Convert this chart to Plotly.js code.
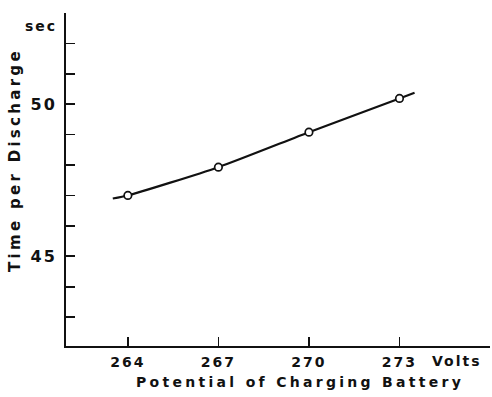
<!DOCTYPE html>
<html>
<head>
<meta charset="utf-8">
<script src="https://cdn.plot.ly/plotly-3.0.1.min.js"></script>
<style>
  html, body { margin: 0; padding: 0; background: #fff; }
  #chart { width: 492px; height: 397px; }
  .xtick text, .ytick text, .annotation-text { letter-spacing: 2px; }
  text[data-unformatted^="Potential"], text[data-unformatted^="Time"] { letter-spacing: 3.3px; }
</style>
</head>
<body>
<div id="chart"></div>
<script>
// Data
const voltage = [264, 267, 270, 273];               // Volts
const timePerDischarge = [47.0, 47.93, 49.08, 50.19]; // sec
// Smooth curve drawn through the points (extends a little beyond the ends)
const curveVoltage = [263.5, 264, 267, 270, 273, 273.5];
const curveTime = [46.9, 47.0, 47.93, 49.08, 50.19, 50.38];

const xTickVals = [264, 267, 270, 273, 276];
const xTickText = ['264', '267', '270', '273', ''];
const yTickVals = [43, 44, 45, 46, 47, 48, 49, 50, 51, 52];
const yTickText = ['', '', '45', '', '', '', '', '50', '', ''];

const fontFam = '"DejaVu Sans", "Liberation Sans", sans-serif';
const ink = '#111';

const traces = [
  {
    x: curveVoltage, y: curveTime, type: 'scatter', mode: 'lines',
    line: { color: ink, width: 2.2, shape: 'spline', smoothing: 0.6 },
    hoverinfo: 'skip', showlegend: false
  },
  {
    x: voltage, y: timePerDischarge, type: 'scatter', mode: 'markers',
    marker: { symbol: 'circle', size: 7.5, color: '#fff', line: { color: ink, width: 1.7 } },
    showlegend: false
  }
];

const layout = {
  width: 492, height: 397,
  margin: { l: 66, r: 2, t: 13, b: 51 },
  paper_bgcolor: '#fff', plot_bgcolor: '#fff',
  font: { family: fontFam, size: 14, color: ink },
  xaxis: {
    range: [261.95, 276], showgrid: false, zeroline: false,
    showline: true, linecolor: ink, linewidth: 2,
    ticks: 'inside', ticklen: 9, tickwidth: 1.6, tickcolor: ink,
    tickvals: xTickVals, ticktext: xTickText,
    tickfont: { family: fontFam, size: 14, color: ink, weight: 'bold' },
    ticklabelstandoff: 2
  },
  yaxis: {
    range: [42.05, 53], showgrid: false, zeroline: false,
    showline: true, linecolor: ink, linewidth: 2,
    ticks: 'inside', ticklen: 9, tickwidth: 1.6, tickcolor: ink,
    tickvals: yTickVals, ticktext: yTickText,
    tickfont: { family: fontFam, size: 16, color: ink, weight: 'bold' },
    ticklabelstandoff: 4
  },
  annotations: [
    { text: 'Volts', xref: 'paper', yref: 'paper', x: (457 - 66) / 424, y: (397 - 51 - 361) / 333,
      xanchor: 'center', yanchor: 'middle', showarrow: false,
      font: { family: fontFam, size: 14, color: ink, weight: 'bold' } },
    { text: 'sec', xref: 'paper', yref: 'paper', x: (59 - 66) / 424, y: (397 - 51 - 26) / 333,
      xanchor: 'right', yanchor: 'middle', showarrow: false,
      font: { family: fontFam, size: 14, color: ink, weight: 'bold' } },
    { text: 'Potential of Charging Battery', xref: 'paper', yref: 'paper', x: (300 - 66) / 424, y: (397 - 51 - 382) / 333,
      xanchor: 'center', yanchor: 'middle', showarrow: false,
      font: { family: fontFam, size: 14, color: ink, weight: 'bold' } },
    { text: 'Time per Discharge', xref: 'paper', yref: 'paper', x: (15 - 66) / 424, y: (397 - 51 - 160) / 333,
      xanchor: 'center', yanchor: 'middle', textangle: -90, showarrow: false,
      font: { family: fontFam, size: 15, color: ink, weight: 'bold' } }
  ]
};

Plotly.newPlot('chart', traces, layout, { displayModeBar: false, staticPlot: true });
</script>
</body>
</html>
